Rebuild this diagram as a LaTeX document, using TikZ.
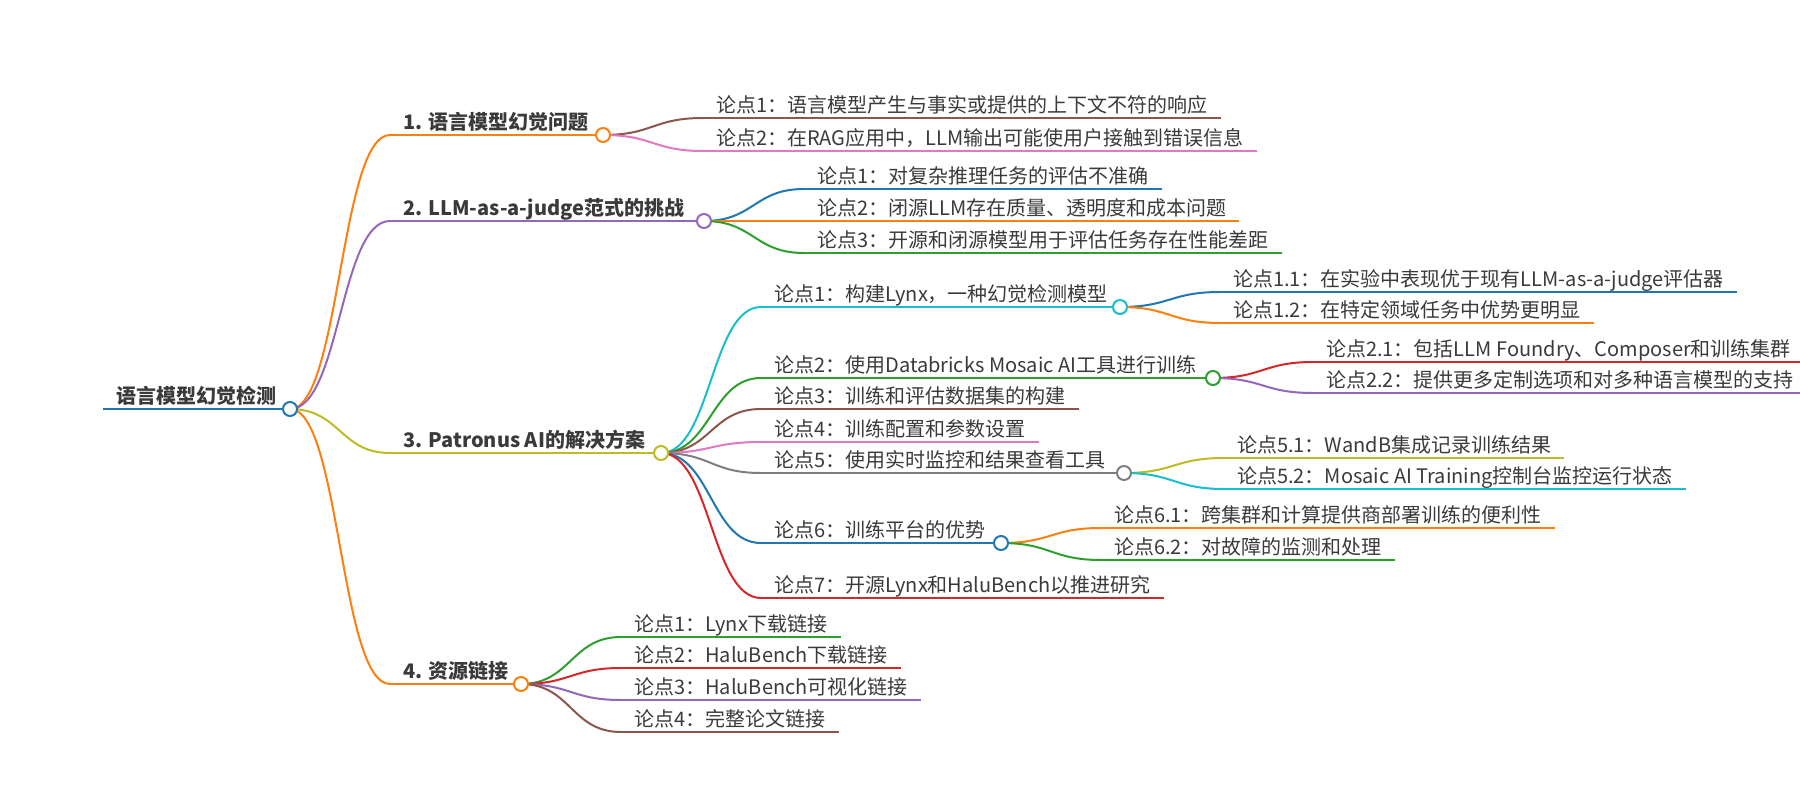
\documentclass[tikz,border=0pt]{standalone}
\usepackage{fontspec}
\setmainfont{Noto Sans CJK SC}
\usetikzlibrary{calc,backgrounds}
\definecolor{txt}{HTML}{3A3A3A}
\definecolor{cblue}{HTML}{1F77B4}
\definecolor{corange}{HTML}{FF7F0E}
\definecolor{cgreen}{HTML}{2CA02C}
\definecolor{cred}{HTML}{D62728}
\definecolor{cpurple}{HTML}{9467BD}
\definecolor{cbrown}{HTML}{8C564B}
\definecolor{cpink}{HTML}{E377C2}
\definecolor{cgray}{HTML}{7F7F7F}
\definecolor{colive}{HTML}{BCBD22}
\definecolor{ccyan}{HTML}{17BECF}
\newcommand\mlink[3]{\draw[lnk=#1] let \p1=(#2.center), \p2=(#3.south west) in (\p1) .. controls ({(\x1+\x2)/2},\y1) and ({(\x1+\x2)/2},\y2) .. (\p2);}
\newcommand\uline[2]{\draw[lnk=#1] (#2.south west) -- (#2.south east);}
\newcommand\pline[3]{\draw[lnk=#1] (#2.south west) -- (#3.center);}
\begin{document}
\begin{tikzpicture}[x=1pt,y=-1pt,
  base/.style={anchor=south west, inner xsep=13pt, inner ysep=0pt, text depth=5pt, text height=17pt, font=\fontsize{20pt}{24pt}\selectfont, text=txt},
  head/.style={base, font=\fontsize{20pt}{24pt}\selectfont\bfseries},
  dot/.style={circle, draw=#1, fill=white, line width=2pt, minimum size=14pt, inner sep=0pt},
  lnk/.style={line width=2pt, draw=#1}]
\useasboundingbox (0,0) rectangle (1800,800);
% root
\node[head] (r) at (103,409) {语言模型幻觉检测};
\node[dot=cblue] (kr) at (290,409) {};
% level 1
\node[head] (a1) at (390,135) {1. 语言模型幻觉问题};
\node[dot=corange] (k1) at (603,135) {};
\node[head] (a2) at (390,221) {2. LLM-as-a-judge范式的挑战};
\node[dot=cpurple] (k2) at (704,221) {};
\node[head] (a3) at (390,453) {3. Patronus AI的解决方案};
\node[dot=colive] (k3) at (661,453) {};
\node[head] (a4) at (390,684) {4. 资源链接};
\node[dot=corange] (k4) at (521,684) {};
% branch 1
\node[base] (b11) at (703,118) {论点1：语言模型产生与事实或提供的上下文不符的响应};
\node[base] (b12) at (703,151) {论点2：在RAG应用中，LLM输出可能使用户接触到错误信息};
% branch 2
\node[base] (b21) at (804,189) {论点1：对复杂推理任务的评估不准确};
\node[base] (b22) at (804,221) {论点2：闭源LLM存在质量、透明度和成本问题};
\node[base] (b23) at (804,253) {论点3：开源和闭源模型用于评估任务存在性能差距};
% branch 3
\node[base] (b31) at (761,307) {论点1：构建Lynx，一种幻觉检测模型};
\node[dot=ccyan] (m1) at (1120,307) {};
\node[base] (b32) at (761,378) {论点2：使用Databricks Mosaic AI工具进行训练};
\node[dot=cgreen] (m2) at (1213,378) {};
\node[base] (b33) at (761,409) {论点3：训练和评估数据集的构建};
\node[base] (b34) at (761,442) {论点4：训练配置和参数设置};
\node[base] (b35) at (761,473) {论点5：使用实时监控和结果查看工具};
\node[dot=cgray] (m5) at (1124,473) {};
\node[base] (b36) at (761,543) {论点6：训练平台的优势};
\node[dot=cblue] (m6) at (1001,543) {};
\node[base] (b37) at (761,598) {论点7：开源Lynx和HaluBench以推进研究};
% level 3
\node[base] (c11) at (1220,292) {论点1.1：在实验中表现优于现有LLM-as-a-judge评估器};
\node[base] (c12) at (1220,323) {论点1.2：在特定领域任务中优势更明显};
\node[base] (c21) at (1313,362) {论点2.1：包括LLM Foundry、Composer和训练集群};
\node[base] (c22) at (1313,393) {论点2.2：提供更多定制选项和对多种语言模型的支持};
\node[base] (c51) at (1224,458) {论点5.1：WandB集成记录训练结果};
\node[base] (c52) at (1224,489) {论点5.2：Mosaic AI Training控制台监控运行状态};
\node[base] (c61) at (1101,528) {论点6.1：跨集群和计算提供商部署训练的便利性};
\node[base] (c62) at (1101,560) {论点6.2：对故障的监测和处理};
% branch 4
\node[base] (b41) at (621,637) {论点1：Lynx下载链接};
\node[base] (b42) at (621,668) {论点2：HaluBench下载链接};
\node[base] (b43) at (621,700) {论点3：HaluBench可视化链接};
\node[base] (b44) at (621,732) {论点4：完整论文链接};
\begin{scope}[on background layer]
\pline{cblue}{r}{kr}
\mlink{corange}{kr}{a1} \pline{corange}{a1}{k1}
\mlink{cpurple}{kr}{a2} \pline{cpurple}{a2}{k2}
\mlink{colive}{kr}{a3} \pline{colive}{a3}{k3}
\mlink{corange}{kr}{a4} \pline{corange}{a4}{k4}
\mlink{cbrown}{k1}{b11} \uline{cbrown}{b11}
\mlink{cpink}{k1}{b12} \uline{cpink}{b12}
\mlink{cblue}{k2}{b21} \uline{cblue}{b21}
\mlink{corange}{k2}{b22} \uline{corange}{b22}
\mlink{cgreen}{k2}{b23} \uline{cgreen}{b23}
\mlink{ccyan}{k3}{b31} \pline{ccyan}{b31}{m1}
\mlink{cgreen}{k3}{b32} \pline{cgreen}{b32}{m2}
\mlink{cbrown}{k3}{b33} \uline{cbrown}{b33}
\mlink{cpink}{k3}{b34} \uline{cpink}{b34}
\mlink{cgray}{k3}{b35} \pline{cgray}{b35}{m5}
\mlink{cblue}{k3}{b36} \pline{cblue}{b36}{m6}
\mlink{cred}{k3}{b37} \uline{cred}{b37}
\mlink{cblue}{m1}{c11} \uline{cblue}{c11}
\mlink{corange}{m1}{c12} \uline{corange}{c12}
\mlink{cred}{m2}{c21} \draw[lnk=cred] (c21.south west) -- ++(600,0);
\mlink{cpurple}{m2}{c22} \draw[lnk=cpurple] (c22.south west) -- ++(600,0);
\mlink{colive}{m5}{c51} \uline{colive}{c51}
\mlink{ccyan}{m5}{c52} \uline{ccyan}{c52}
\mlink{corange}{m6}{c61} \uline{corange}{c61}
\mlink{cgreen}{m6}{c62} \uline{cgreen}{c62}
\mlink{cgreen}{k4}{b41} \uline{cgreen}{b41}
\mlink{cred}{k4}{b42} \uline{cred}{b42}
\mlink{cpurple}{k4}{b43} \uline{cpurple}{b43}
\mlink{cbrown}{k4}{b44} \uline{cbrown}{b44}
\end{scope}
\end{tikzpicture}
\end{document}
